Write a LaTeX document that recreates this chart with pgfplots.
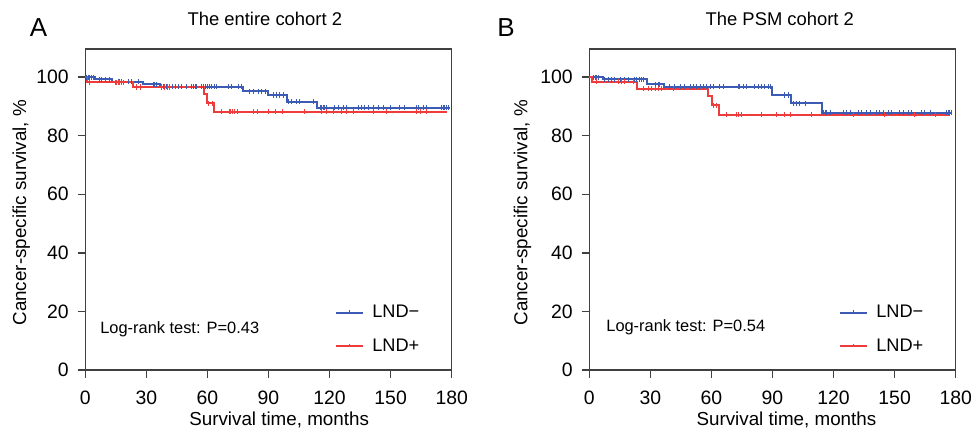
\documentclass[border=0pt]{standalone}
\usepackage{fontspec}
\setmainfont{Liberation Sans}
\usepackage{pgfplots}
\pgfplotsset{compat=1.18}
\definecolor{kmblue}{HTML}{3B5BB5}
\definecolor{kmred}{HTML}{EE3B3B}

\pgfplotsset{
  kmaxis/.style={
    scale only axis, width=183.2pt, height=160.5pt,
    xmin=0, xmax=180, ymin=0, ymax=109.6,
    xtick={0,30,...,180}, ytick={0,20,...,100},
    tick align=outside, tick pos=left,
    major tick length=3.8pt,
    tick style={black!75, line width=0.75pt},
    axis line style={black!75, line width=0.75pt},
    /pgf/number format/assume math mode=true,
    ticklabel style={font=\fontsize{9.7}{11}\selectfont},
    xticklabel style={yshift=-3.2pt},
    yticklabel style={xshift=-1pt},
    label style={font=\fontsize{9.4}{11}\selectfont},
    xlabel={Survival time, months},
    ylabel={Cancer-specific survival, \%},
    every axis title shift=0pt,
    title style={anchor=base, inner sep=0pt, font=\fontsize{9.2}{11}\selectfont},
    clip=false,
    legend style={draw=none, fill=none, inner sep=0pt, row sep=9pt,
      font=\fontsize{9.1}{11}\selectfont, nodes={inner sep=0pt},
      /tikz/column sep=4pt},
    legend cell align=left,
    legend image code/.code={
      \draw[#1] (0pt,0pt) -- (13.5pt,0pt);
      \draw[#1, line width=0.5pt] (6.75pt,0pt) -- (6.75pt,1.3pt);
    },
  },
  kmline/.style={const plot, line width=1pt, mark=none},
  kmcens/.style={only marks, mark=|, mark size=1.3pt, line width=0.5pt, forget plot},
}

\begin{document}
\begin{tikzpicture}
\useasboundingbox (-42.65pt,-29pt) rectangle (442.85pt,185pt);

\node[font=\fontsize{13}{15}\selectfont, anchor=base] at (-23.4pt,166.5pt) {A};
\node[font=\fontsize{13}{15}\selectfont, anchor=base] at (210.4pt,166.5pt) {B};

% A: entire cohort
\begin{axis}[kmaxis, at={(0pt,0pt)}, anchor=south west,
  title={The entire cohort 2},
  title style={at={(axis description cs:0.49,1.073)}},
  xlabel style={at={(axis description cs:0.529,-0.155)}, anchor=center},
  ylabel style={at={(axis description cs:-0.175,0.49)}, anchor=center},
  legend style={at={(axis cs:122.6,22.3)}, anchor=north west}]
  \addplot[kmline, kmblue] coordinates {(0,100) (4.8,99.3) (13,98.4) (28.5,97.5) (36.6,96.7) (77.6,95.2) (89.9,93.9) (98.9,91.6) (113.6,89.5) (179,89.5)};
  \addlegendentry{LND\textminus}
  \addplot[kmline, kmred] coordinates {(0,100) (1,98.2) (23.5,96.6) (58.3,94.2) (59.6,91.0) (63.4,88.2) (177.5,88.2)};
  \addlegendentry{LND+}
  \addplot[kmcens, kmblue] coordinates {
    (0.7,100) (1.5,100) (2.3,100) (3.1,100) (3.9,100)
    (7.2,99.3) (8.0,99.3) (9.7,99.3) (12.1,99.3)
    (16.2,98.4) (17.0,98.4) (17.9,98.4) (21.1,98.4) (22.8,98.4) (26.0,98.4)
    (33.4,97.5) (34.2,97.5) (35.1,97.5)
    (38.5,96.7) (40,96.7) (41.5,96.7) (43,96.7) (44.5,96.7) (46,96.7) (47.5,96.7) (49.8,96.7)
    (52.2,96.7) (53.1,96.7) (53.9,96.7) (54.7,96.7) (57,96.7) (58,96.7) (59,96.7) (60,96.7)
    (61,96.7) (62,96.7) (63.7,96.7) (64.5,96.7) (70.3,96.7) (71.9,96.7) (75.2,96.7) (76.8,96.7)
    (80.9,95.2) (82.5,95.2) (85.0,95.2) (86.6,95.2) (88.3,95.2)
    (92.3,93.9) (94.0,93.9) (95.6,93.9) (97.2,93.9)
    (99.7,91.6) (101.3,91.6) (103.8,91.6) (105.4,91.6) (112,91.6)
    (115.3,89.5) (116.1,89.5) (116.9,89.5) (117.7,89.5) (118.5,89.5) (122.6,89.5) (124.3,89.5)
    (126.7,89.5) (128.4,89.5) (134.1,89.5) (135.7,89.5) (137.4,89.5) (139.0,89.5) (141.5,89.5)
    (143.9,89.5) (146.4,89.5) (149.7,89.5) (154.6,89.5) (157.0,89.5) (162.8,89.5) (163.6,89.5)
    (166.0,89.5) (167.7,89.5) (175.0,89.5) (175.8,89.5) (176.6,89.5) (177.4,89.5) (178.3,89.5)};
  \addplot[kmcens, kmred] coordinates {
    (2.3,98.2) (14.6,98.2) (15.4,98.2) (16.2,98.2) (17.0,98.2) (17.9,98.2) (18.7,98.2)
    (25.2,96.6) (26.9,96.6) (37.5,96.6) (39,96.6) (40.5,96.6) (41.6,96.6)
    (60.4,91.0) (62.5,91.0)
    (67.0,88.2) (70.6,88.2) (71.4,88.2) (72.3,88.2) (73.1,88.2) (74.7,88.2) (82.5,88.2)
    (84.5,88.2) (89.9,88.2) (93.2,88.2) (96.8,88.2) (107.9,88.2) (116.1,88.2) (118.6,88.2)
    (121.9,88.2) (126.0,88.2) (128.4,88.2) (131.7,88.2) (141.8,88.2) (148.0,88.2) (162.8,88.2)
    (164.5,88.2) (167.7,88.2)};
  \node[anchor=base west, inner sep=0pt, font=\fontsize{8.2}{10}\selectfont] at (axis cs:7.2,12.3) {Log-rank test: P=0.43};
\end{axis}

% B: PSM cohort
\begin{axis}[kmaxis, at={(252pt,0pt)}, anchor=south west,
  title={The PSM cohort 2},
  title style={at={(axis description cs:0.52,1.073)}},
  xlabel style={at={(axis description cs:0.538,-0.155)}, anchor=center},
  ylabel style={at={(axis description cs:-0.182,0.49)}, anchor=center},
  legend style={at={(axis cs:122.6,22.3)}, anchor=north west}]
  \addplot[kmline, kmblue] coordinates {(0,100) (6.7,99.3) (28.5,97.6) (36.6,96.7) (89.9,93.9) (98.9,91.0) (114.1,87.9) (178,87.9)};
  \addlegendentry{LND\textminus}
  \addplot[kmline, kmred] coordinates {(0,100) (1.5,98.4) (23.6,96.1) (58.5,93.5) (60.1,90.4) (63.9,87.2) (177,87.2)};
  \addlegendentry{LND+}
  \addplot[kmcens, kmblue] coordinates {
    (2.0,100) (2.8,100) (3.6,100) (4.4,100)
    (7.7,99.3) (9.3,99.3) (11.0,99.3) (12.6,99.3) (15.1,99.3) (17.5,99.3) (19.2,99.3)
    (22.4,99.3) (23.3,99.3) (24.9,99.3) (25.7,99.3) (26.5,99.3)
    (32.3,97.6) (33.9,97.6) (34.7,97.6)
    (39.6,96.7) (42.1,96.7) (44.6,96.7) (47.0,96.7) (49.5,96.7) (51.1,96.7) (52.8,96.7)
    (54.4,96.7) (56.0,96.7) (57.7,96.7) (59.3,96.7) (60.9,96.7) (64.2,96.7) (65.8,96.7)
    (73.2,96.7) (74.0,96.7) (75.6,96.7) (77.3,96.7) (81.4,96.7) (83.0,96.7) (84.7,96.7)
    (86.3,96.7) (87.9,96.7) (88.8,96.7)
    (96.1,93.9) (97.8,93.9)
    (100.2,91.0) (101.9,91.0) (103.5,91.0) (106.0,91.0)
    (115,87.9) (115.8,87.9) (116.6,87.9) (118.3,87.9) (124.8,87.9) (126.5,87.9) (128.1,87.9)
    (132.2,87.9) (133.8,87.9) (136.3,87.9) (137.9,87.9) (141.2,87.9) (142.8,87.9) (144.4,87.9)
    (146.9,87.9) (148.5,87.9) (152.6,87.9) (154.2,87.9) (156.7,87.9) (158.3,87.9) (163.3,87.9)
    (164.9,87.9) (167.4,87.9) (175.5,87.9) (176.3,87.9) (177.1,87.9) (177.9,87.9)};
  \addplot[kmcens, kmred] coordinates {
    (3.6,98.4) (14.3,98.4) (15.9,98.4) (17.5,98.4) (21.6,98.4)
    (26.5,96.1) (29.0,96.1) (30.6,96.1) (32.3,96.1) (33.9,96.1) (35.6,96.1) (41.3,96.1)
    (60.9,90.4) (62.6,90.4)
    (67.5,87.2) (72.4,87.2) (73.2,87.2) (74.9,87.2) (84.6,87.2) (92,87.2) (96.1,87.2)
    (98.6,87.2) (109.3,87.2) (130,87.2) (145,87.2) (160,87.2) (170,87.2)};
  \node[anchor=base west, inner sep=0pt, font=\fontsize{8.2}{10}\selectfont] at (axis cs:8.2,13.1) {Log-rank test: P=0.54};
\end{axis}
\end{tikzpicture}
\end{document}
